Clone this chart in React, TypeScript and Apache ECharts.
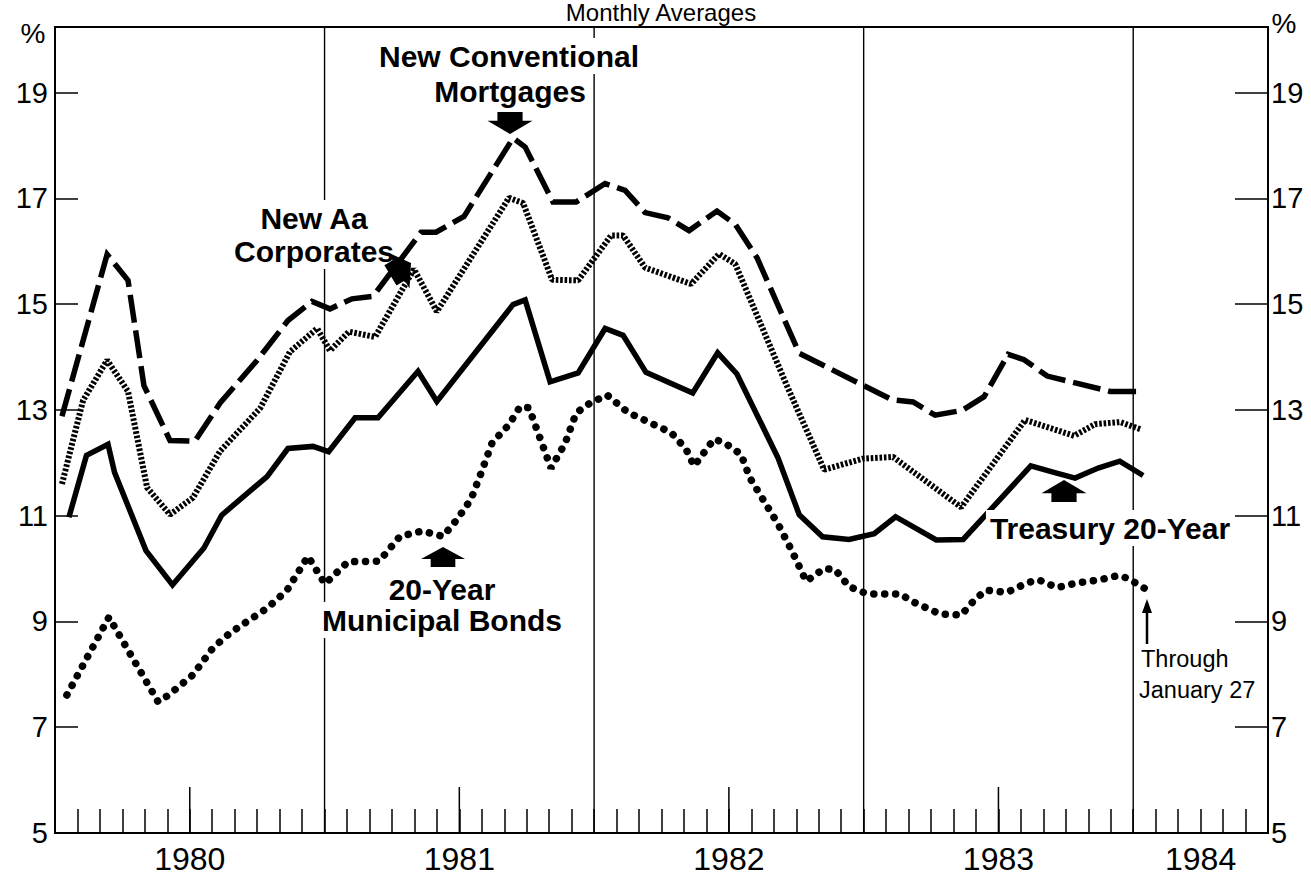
import React, { useEffect, useRef } from 'react';
import * as echarts from 'echarts';

// time axis: months since Jan 1, 1980
const X_MIN = 0;
const X_MAX = 54;
const Y_MIN = 5;
const Y_MAX = 20.24;

const yearBoundaries = [12, 24, 36, 48];
const midYearTicks = [6, 18, 30, 42];
const yearLabelPositions = [6, 18, 30, 42, 51];
const yearLabels = ['1980', '1981', '1982', '1983', '1984'];

// [month position, percent]
const mortgages = [
  [0.31, 12.88], [2.32, 15.94], [3.25, 15.45], [3.96, 13.46], [5.12, 12.42], [6.23, 12.41],
  [7.35, 13.13], [9.0, 13.94], [10.37, 14.69], [11.44, 15.05], [12.24, 14.91], [13.22, 15.1],
  [14.16, 15.15], [16.3, 16.36], [16.96, 16.36], [18.21, 16.66], [20.39, 18.14], [20.93, 17.97],
  [22.17, 16.93], [23.2, 16.93], [24.49, 17.28], [25.38, 17.15], [26.27, 16.73], [27.29, 16.63],
  [28.23, 16.39], [29.47, 16.76], [30.28, 16.51], [31.26, 15.87], [33.13, 14.07], [37.27, 13.19],
  [38.2, 13.15], [39.18, 12.9], [40.38, 12.99], [41.36, 13.25], [42.43, 14.05], [43.14, 13.95],
  [44.17, 13.64], [46.97, 13.35], [48.44, 13.35]
];

const aaCorporates = [
  [0.31, 11.6], [1.25, 13.18], [2.32, 13.94], [3.25, 13.35], [4.1, 11.53], [5.12, 11.02],
  [6.14, 11.34], [7.35, 12.22], [9.13, 13.03], [10.46, 14.1], [11.67, 14.54], [12.24, 14.12],
  [13.09, 14.48], [14.25, 14.38], [15.98, 15.66], [17.0, 14.86], [20.21, 17.01], [20.84, 16.91],
  [22.13, 15.46], [23.29, 15.45], [24.76, 16.3], [25.29, 16.3], [26.27, 15.69], [28.32, 15.38],
  [29.56, 15.95], [30.28, 15.76], [32.59, 13.45], [34.24, 11.87], [35.98, 12.08], [37.31, 12.11],
  [40.34, 11.16], [43.19, 12.81], [45.37, 12.51], [46.3, 12.73], [47.42, 12.77], [48.35, 12.63]
];

const treasury20 = [
  [0.62, 10.97], [1.4, 12.14], [2.36, 12.35], [2.65, 11.82], [4.05, 10.34], [5.23, 9.69],
  [6.63, 10.39], [7.42, 11.01], [9.44, 11.74], [10.37, 12.27], [11.49, 12.31], [12.18, 12.21],
  [13.36, 12.85], [14.38, 12.85], [16.16, 13.73], [17.0, 13.16], [20.39, 14.99], [20.93, 15.08],
  [22.04, 13.53], [23.29, 13.7], [24.49, 14.54], [25.29, 14.41], [26.31, 13.71], [28.39, 13.32],
  [29.5, 14.08], [30.36, 13.68], [32.19, 12.09], [33.13, 11.02], [34.17, 10.6], [35.35, 10.55],
  [36.47, 10.66], [37.42, 10.98], [39.23, 10.54], [40.43, 10.55], [43.44, 11.94], [44.55, 11.81],
  [45.41, 11.71], [46.44, 11.9], [47.4, 12.03], [48.44, 11.76]
];

const municipal20 = [
  [0.53, 7.61], [2.4, 9.08], [4.59, 7.48], [5.03, 7.6], [6.14, 7.99], [7.03, 8.5], [7.79, 8.78],
  [8.59, 9.01], [9.44, 9.25], [10.33, 9.59], [11.26, 10.23], [12.02, 9.71], [13.05, 10.13],
  [14.43, 10.14], [15.36, 10.61], [16.34, 10.71], [17.27, 10.61], [17.9, 10.93], [18.52, 11.31],
  [18.97, 11.81], [19.46, 12.38], [20.21, 12.72], [20.7, 13.06], [21.1, 13.04], [21.46, 12.62],
  [22.08, 11.9], [22.71, 12.37], [23.2, 12.94], [23.82, 13.13], [24.58, 13.28], [25.51, 12.95],
  [26.58, 12.74], [27.43, 12.57], [28.09, 12.26], [28.45, 11.94], [29.34, 12.45], [29.83, 12.37],
  [30.54, 12.16], [30.94, 11.71], [32.19, 10.84], [32.81, 10.33], [33.44, 9.76], [34.24, 10.0],
  [34.73, 9.98], [35.35, 9.66], [36.15, 9.52], [37.62, 9.52], [38.2, 9.37], [39.4, 9.14],
  [40.34, 9.12], [40.96, 9.42], [41.45, 9.59], [42.39, 9.55], [43.28, 9.73], [43.77, 9.79],
  [44.61, 9.64], [45.5, 9.73], [46.44, 9.78], [47.33, 9.87], [47.73, 9.82], [48.49, 9.63]
];

const FONT = "'Liberation Sans', Arial, Helvetica, sans-serif";

function arrowPoints(w: number, h: number) {
  const hh = h * 0.6;
  const sw = w * 0.28;
  return [
    [0, 0], [w / 2, hh], [sw, hh], [sw, h], [-sw, h], [-sw, hh], [-w / 2, hh]
  ];
}

function label(text: string, x: number, y: number, opts: any = {}) {
  return {
    type: 'text',
    x,
    y,
    z: 100,
    style: {
      text,
      font: (opts.bold === false ? '' : 'bold ') + (opts.size || 30) + 'px ' + FONT,
      fill: '#000',
      align: opts.align || 'center',
      textAlign: opts.align || 'center',
      verticalAlign: 'middle',
      textVerticalAlign: 'middle',
      backgroundColor: opts.bg === false ? undefined : '#fff',
      padding: opts.bg === false ? 0 : [3, 4]
    }
  };
}

function arrow(x: number, y: number, rotation: number, w = 45, h = 22) {
  return {
    type: 'polygon',
    x,
    y,
    rotation,
    z: 101,
    shape: { points: arrowPoints(w, h) },
    style: { fill: '#000' }
  };
}

export default function App() {
  const ref = useRef<HTMLDivElement>(null);

  useEffect(() => {
    if (!ref.current) return;
    const chart = echarts.init(ref.current, undefined, { renderer: 'svg' });

    const lineBase = {
      type: 'line',
      showSymbol: false,
      symbol: 'none',
      silent: true,
      z: 3,
      xAxisIndex: 0,
      yAxisIndex: 0
    };

    const yLabel = (margin: number) => ({
      color: '#000',
      fontSize: 29,
      fontFamily: FONT,
      margin,
      formatter: (v: number) => (Number.isInteger(v) ? String(v) : '')
    });

    const option: any = {
      animation: false,
      backgroundColor: '#fff',
      grid: {
        left: 55,
        right: 43,
        top: 27,
        bottom: 44,
        show: true,
        borderColor: '#000',
        borderWidth: 2,
        backgroundColor: 'transparent'
      },
      xAxis: {
        type: 'value',
        min: X_MIN,
        max: X_MAX,
        interval: 1,
        axisLine: { show: true, lineStyle: { color: '#000', width: 2 } },
        axisTick: { show: true, inside: true, length: 24, lineStyle: { color: '#000', width: 1.5 } },
        splitLine: { show: false },
        axisLabel: {
          color: '#000',
          fontSize: 32,
          fontFamily: FONT,
          margin: 10,
          formatter: (v: number) => {
            const i = yearLabelPositions.indexOf(Math.round(v));
            return i >= 0 && Math.abs(v - Math.round(v)) < 1e-6 ? yearLabels[i] : '';
          }
        }
      },
      yAxis: [
        {
          type: 'value',
          position: 'left',
          min: Y_MIN,
          max: Y_MAX,
          interval: 2,
          axisLine: { show: true, lineStyle: { color: '#000', width: 2 } },
          axisTick: { show: true, inside: true, length: 23, lineStyle: { color: '#000', width: 1.5 } },
          splitLine: { show: false },
          axisLabel: yLabel(7)
        },
        {
          type: 'value',
          position: 'right',
          min: Y_MIN,
          max: Y_MAX,
          interval: 2,
          axisLine: { show: true, lineStyle: { color: '#000', width: 2 } },
          axisTick: { show: true, inside: true, length: 33, lineStyle: { color: '#000', width: 1.5 } },
          splitLine: { show: false },
          axisLabel: yLabel(3)
        }
      ],
      series: [
        {
          type: 'custom',
          silent: true,
          z: 1,
          data: yearBoundaries.map((t) => [t, Y_MIN]),
          renderItem: (params: any, api: any) => {
            const t = api.value(0);
            const a = api.coord([t, Y_MIN]);
            const b = api.coord([t, Y_MAX]);
            return {
              type: 'line',
              shape: { x1: a[0], y1: a[1], x2: b[0], y2: b[1] },
              style: { stroke: '#000', lineWidth: 1.4 }
            };
          }
        },
        {
          type: 'custom',
          silent: true,
          z: 1,
          data: midYearTicks.map((t) => [t, Y_MIN]),
          renderItem: (params: any, api: any) => {
            const t = api.value(0);
            const a = api.coord([t, Y_MIN]);
            return {
              type: 'line',
              shape: { x1: a[0], y1: a[1], x2: a[0], y2: a[1] - 46 },
              style: { stroke: '#000', lineWidth: 1.5 }
            };
          }
        },
        {
          ...lineBase,
          name: 'New Conventional Mortgages',
          data: mortgages,
          lineStyle: { color: '#000', width: 5.5, type: [28, 8], cap: 'butt', join: 'miter' }
        },
        {
          ...lineBase,
          name: 'New Aa Corporates',
          data: aaCorporates,
          lineStyle: { color: '#000', width: 6, type: [2.6, 1.8], cap: 'butt' }
        },
        {
          ...lineBase,
          name: 'Treasury 20-Year',
          data: treasury20,
          lineStyle: { color: '#000', width: 5.5, type: 'solid', join: 'miter' }
        },
        {
          ...lineBase,
          name: '20-Year Municipal Bonds',
          data: municipal20,
          lineStyle: { color: '#000', width: 7.5, type: [0.1, 10.8], cap: 'round' }
        }
      ],
      graphic: {
        elements: [
          label('Monthly Averages', 661, 12, { bold: false, size: 24, bg: false }),
          label('%', 33, 33, { bold: false, size: 28, bg: false }),
          label('%', 1284, 23, { bold: false, size: 28, bg: false }),
          label('New Conventional', 509, 56),
          label('Mortgages', 510, 91),
          arrow(510, 134, Math.PI, 45, 22),
          label('New Aa', 314, 218),
          label('Corporates', 314, 251),
          arrow(411, 263, -1.03, 42, 24),
          label('20-Year', 442, 589),
          label('Municipal Bonds', 442, 620),
          arrow(443, 547, 0, 44, 20),
          label('Treasury 20-Year', 1110, 528),
          arrow(1064, 480, 0, 45, 22),
          label('Through', 1141, 659, { bold: false, size: 23.5, align: 'left', bg: false }),
          label('January 27', 1139, 690, { bold: false, size: 23.5, align: 'left', bg: false }),
          {
            type: 'line',
            z: 101,
            shape: { x1: 1147, y1: 644, x2: 1147, y2: 610 },
            style: { stroke: '#000', lineWidth: 2.5 }
          },
          {
            type: 'polygon',
            z: 101,
            shape: { points: [[1147, 599], [1152, 613], [1142, 613]] },
            style: { fill: '#000' }
          }
        ]
      }
    };

    chart.setOption(option);
    return () => chart.dispose();
  }, []);

  return (
    <div
      ref={ref}
      style={{ position: 'fixed', left: 0, top: 0, width: 1311, height: 877, background: '#fff' }}
    />
  );
}
